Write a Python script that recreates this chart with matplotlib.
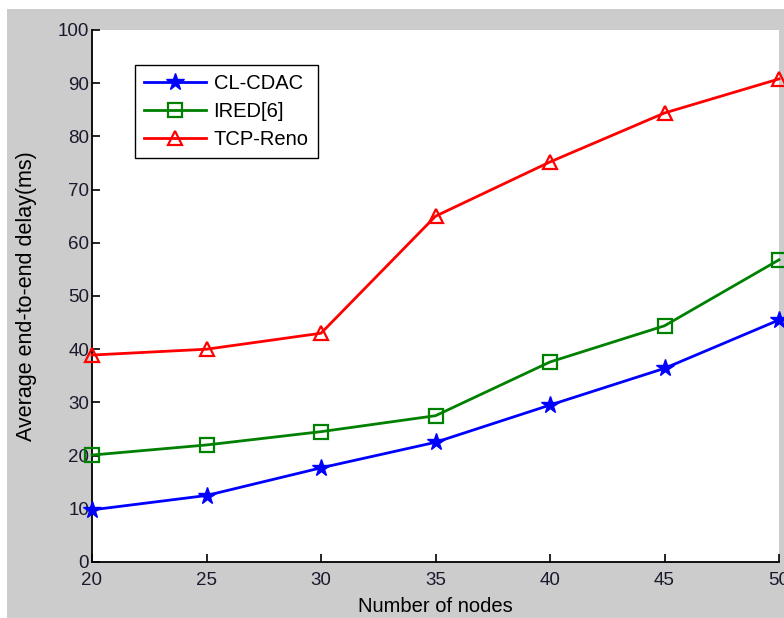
import matplotlib.pyplot as plt
from matplotlib.patches import Rectangle

# data
nodes = [20, 25, 30, 35, 40, 45, 50]
cl_cdac = [9.8, 12.5, 17.7, 22.5, 29.5, 36.4, 45.5]
ired = [20.1, 22.0, 24.5, 27.5, 37.6, 44.4, 56.8]
tcp_reno = [38.9, 40.0, 43.0, 65.0, 75.2, 84.4, 90.8]

plt.rcParams['font.family'] = ['Liberation Sans', 'DejaVu Sans']

fig = plt.figure(figsize=(7.84, 6.18), dpi=100, facecolor='white')
# MATLAB-like gray figure area
fig.patches.append(Rectangle((7 / 784, 0), 1, 609 / 618, transform=fig.transFigure,
                             facecolor='#cccccc', edgecolor='none', zorder=-10))

ax = fig.add_axes([92 / 784, 56 / 618, 687 / 784, 532 / 618])
ax.set_facecolor('white')

ax.plot(nodes, cl_cdac, color='#0000ff', lw=2, marker='*', ms=13, mfc='#0000ff',
        mec='#0000ff', label='CL-CDAC', clip_on=False, zorder=5)
ax.plot(nodes, ired, color='#008000', lw=2, marker='s', ms=10, mfc='none',
        mec='#008000', mew=1.6, label='IRED[6]', clip_on=False, zorder=5)
ax.plot(nodes, tcp_reno, color='#ff0000', lw=2, marker='^', ms=10, mfc='none',
        mec='#ff0000', mew=1.6, label='TCP-Reno', clip_on=False, zorder=5)

ax.set_xlim(20, 50)
ax.set_ylim(0, 100)
ax.set_xticks(nodes)
ax.set_yticks(range(0, 101, 10))
ax.tick_params(direction='in', length=6, width=1.2, labelsize=13.5, colors='black',
               labelcolor='#1a1a2e')
ax.tick_params(axis='x', pad=7)
ax.tick_params(axis='y', pad=2)

ax.spines['top'].set_visible(False)
ax.spines['right'].set_visible(False)
ax.spines['left'].set_linewidth(1.3)
ax.spines['bottom'].set_linewidth(1.3)

ax.set_xlabel('Number of nodes', fontsize=14.5, labelpad=6)
ax.set_ylabel('Average end-to-end delay(ms)', fontsize=15.5, labelpad=15)

leg = ax.legend(loc='upper left', bbox_to_anchor=(0.0626, 0.934), borderaxespad=0,
                fontsize=14.5, handlelength=3.1, handletextpad=0.35,
                fancybox=False, framealpha=1, edgecolor='black',
                borderpad=0.45, labelspacing=0.45)
leg.get_frame().set_linewidth(1.0)

fig.savefig('out.png', dpi=100, facecolor=fig.get_facecolor())
